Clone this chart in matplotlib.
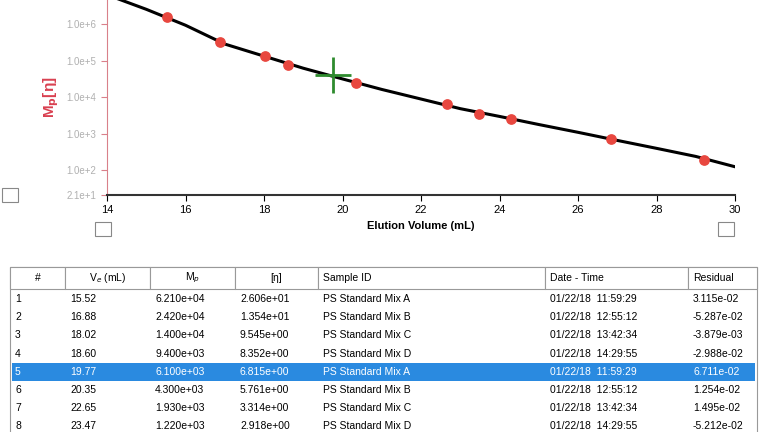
import matplotlib.pyplot as plt
from matplotlib.patches import Rectangle

# calibration points (Ve, Mp[eta])
ve_pts = [15.52, 16.88, 18.02, 18.60, 20.35, 22.65, 23.47, 24.3, 26.85, 29.2]
mh_pts = [1.62e6, 3.28e5, 1.34e5, 7.85e4, 2.48e4, 6.4e3, 3.6e3, 2.6e3, 7.3e2, 1.9e2]
sel_ve, sel_mh = 19.77, 4.16e4

# fitted curve
fit_x = [14, 15, 16, 17, 18, 19, 20, 21, 22, 23, 24, 25, 26, 27, 28, 29, 30]
fit_y = [6.5e6, 2.6e6, 9.5e5, 2.9e5, 1.35e5, 6.3e4, 3.2e4, 1.65e4, 9.0e3, 4.9e3,
         3.0e3, 1.8e3, 1.1e3, 6.6e2, 4.0e2, 2.4e2, 1.25e2]

y_ticks = [21, 1e2, 1e3, 1e4, 1e5, 1e6]
y_ticklabels = ["2.1e+1", "1.0e+2", "1.0e+3", "1.0e+4", "1.0e+5", "1.0e+6"]

columns = ["#", "V$_e$ (mL)", "M$_p$", "[η]", "Sample ID", "Date - Time", "Residual"]
rows = [
    ["1", "15.52", "6.210e+04", "2.606e+01", "PS Standard Mix A", "01/22/18  11:59:29", "3.115e-02"],
    ["2", "16.88", "2.420e+04", "1.354e+01", "PS Standard Mix B", "01/22/18  12:55:12", "-5.287e-02"],
    ["3", "18.02", "1.400e+04", "9.545e+00", "PS Standard Mix C", "01/22/18  13:42:34", "-3.879e-03"],
    ["4", "18.60", "9.400e+03", "8.352e+00", "PS Standard Mix D", "01/22/18  14:29:55", "-2.988e-02"],
    ["5", "19.77", "6.100e+03", "6.815e+00", "PS Standard Mix A", "01/22/18  11:59:29", "6.711e-02"],
    ["6", "20.35", "4.300e+03", "5.761e+00", "PS Standard Mix B", "01/22/18  12:55:12", "1.254e-02"],
    ["7", "22.65", "1.930e+03", "3.314e+00", "PS Standard Mix C", "01/22/18  13:42:34", "1.495e-02"],
    ["8", "23.47", "1.220e+03", "2.918e+00", "PS Standard Mix D", "01/22/18  14:29:55", "-5.212e-02"],
]
selected = 4

W, H = 768, 432
fig = plt.figure(figsize=(7.68, 4.32), dpi=100)
plt.rcParams["font.family"] = ["Liberation Sans", "DejaVu Sans"]

# --- calibration plot ---
ax = fig.add_axes([107 / W, 1 - 195 / H, 628 / W, 195 / H])
ax.set_yscale("log")
ax.plot(fit_x, fit_y, color="black", lw=2.2, zorder=2)
ax.scatter(ve_pts, mh_pts, color="#e8473f", s=45, zorder=3)
ax.plot(sel_ve, sel_mh, marker="+", color="#2e8b2e", ms=26, mew=2, zorder=4)
ax.set_xlim(14, 30)
ax.set_ylim(21, 10 ** 6.67)
ax.set_xticks(range(14, 31, 2))
ax.set_yticks(y_ticks)
ax.set_yticklabels(y_ticklabels)
ax.minorticks_off()
ax.tick_params(axis="y", colors="#d9808a", labelsize=7, length=4)
ax.tick_params(axis="x", labelsize=8, length=4)
for lab in ax.get_yticklabels():
    lab.set_color("#b0b0b0")
ax.spines[["top", "right"]].set_visible(False)
ax.spines["left"].set_color("#d9808a")
ax.spines["bottom"].set_color("#333333")
ax.spines["bottom"].set_linewidth(1.5)
ax.set_xlabel("Elution Volume (mL)", fontsize=8, fontweight="bold")
ax.set_ylabel("M$_\\mathbf{p}$[η]", fontsize=11, fontweight="bold", color="#d94050")

# --- table ---
tax = fig.add_axes([0, 0, 1, 1])
tax.set_xlim(0, W)
tax.set_ylim(H, 0)
tax.axis("off")
for bx, by in [(2, 188), (95, 222), (718, 222)]:
    tax.add_patch(Rectangle((bx, by), 16, 14, fill=False, ec="#888888", lw=0.8))
edges = [10, 65, 150, 235, 318, 545, 688, 757]
tax.add_patch(Rectangle((10, 267), 747, 170, fill=False, ec="#999999", lw=0.8))
for i, name in enumerate(columns):
    tax.add_patch(Rectangle((edges[i], 267), edges[i + 1] - edges[i], 22,
                            fc="white", ec="#999999", lw=0.8))
    x = (edges[i] + edges[i + 1]) / 2 if i < 4 else edges[i] + 5
    tax.text(x, 278, name, ha="center" if i < 4 else "left", va="center", fontsize=7.5)
for r, row in enumerate(rows):
    y = 299 + r * 18.2
    color = "black"
    if r == selected:
        tax.add_patch(Rectangle((12, y - 9), 743, 18, fc="#2a8ae0", ec="none"))
        color = "white"
    for i, val in enumerate(row):
        tax.text(edges[i] + 5, y, val, ha="left", va="center", fontsize=7.5, color=color)

fig.savefig("out.png", dpi=100)
